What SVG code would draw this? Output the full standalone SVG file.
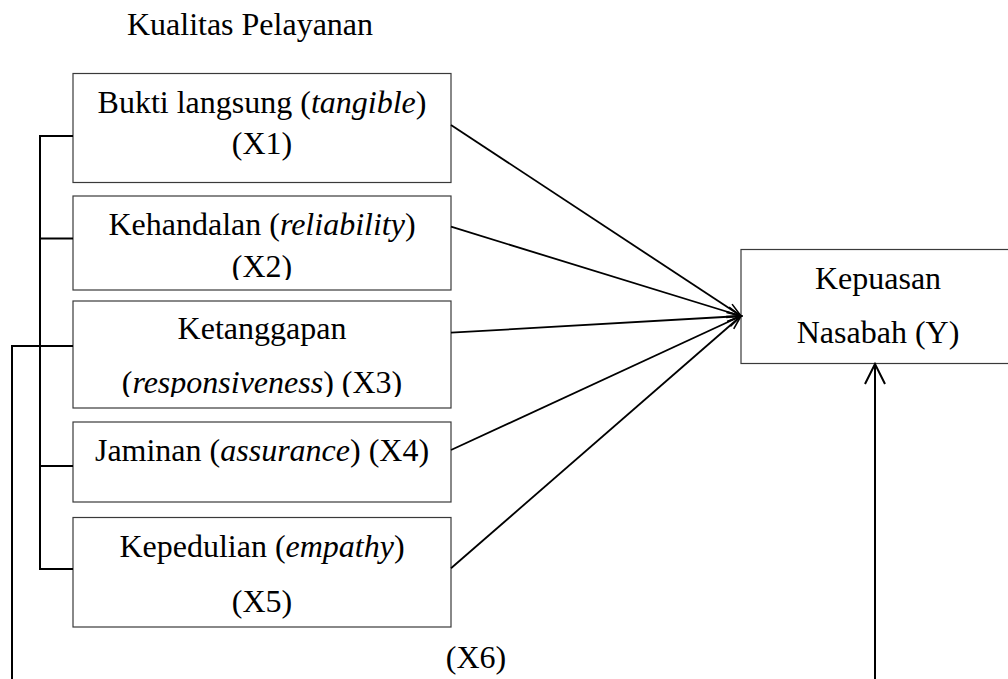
<svg xmlns="http://www.w3.org/2000/svg" width="1008" height="679" viewBox="0 0 1008 679">
<style>
  .box { fill: #ffffff; stroke: #3a3a3a; stroke-width: 1.2; }
  .t { font-family: "Liberation Serif", "Times New Roman", serif; font-size: 32px; fill: #000; text-anchor: middle; }
  .i { font-style: italic; }
  .ln { stroke: #000; stroke-width: 1.8; fill: none; }
  .br { stroke: #000; stroke-width: 2; fill: none; }
</style>
<defs>
  <marker id="ah" markerUnits="userSpaceOnUse" viewBox="-16 -8 18 16" markerWidth="18" markerHeight="16" refX="0" refY="0" orient="auto">
    <path d="M-14,-5 L0,0 L-14,5" fill="none" stroke="#000" stroke-width="1.6"/>
  </marker>
  <marker id="ahb" markerUnits="userSpaceOnUse" viewBox="-24 -12 26 24" markerWidth="26" markerHeight="24" refX="0" refY="0" orient="auto">
    <path d="M-20,-10 L0,0 L-20,10" fill="none" stroke="#000" stroke-width="2"/>
  </marker>
  <clipPath id="c2"><rect x="73" y="196" width="378" height="84"/></clipPath>
  <clipPath id="c3"><rect x="73" y="301" width="378" height="96"/></clipPath>
</defs>

<text id="title" class="t" x="250" y="35">Kualitas Pelayanan</text>

<g id="x1">
  <rect class="box" x="73" y="73.5" width="378" height="109"/>
  <text class="t" x="262" y="113">Bukti langsung (<tspan class="i">tangible</tspan>)</text>
  <text class="t" x="262" y="154">(X1)</text>
</g>
<g id="x2">
  <rect class="box" x="73" y="196" width="378" height="94"/>
  <text class="t" x="262" y="235">Kehandalan (<tspan class="i">reliability</tspan>)</text>
  <text class="t" x="262" y="277" clip-path="url(#c2)">(X2)</text>
</g>
<g id="x3">
  <rect class="box" x="73" y="301" width="378" height="107"/>
  <text class="t" x="262" y="339">Ketanggapan</text>
  <text class="t" x="262" y="393" clip-path="url(#c3)">(<tspan class="i">responsiveness</tspan>) (X3)</text>
</g>
<g id="x4">
  <rect class="box" x="73" y="422" width="378" height="80"/>
  <text class="t" x="262" y="461">Jaminan (<tspan class="i">assurance</tspan>) (X4)</text>
</g>
<g id="x5">
  <rect class="box" x="73" y="517.5" width="378" height="109.5"/>
  <text class="t" x="262" y="557">Kepedulian (<tspan class="i">empathy</tspan>)</text>
  <text class="t" x="262" y="612">(X5)</text>
</g>
<g id="y">
  <rect class="box" x="741" y="249.5" width="280" height="114"/>
  <text class="t" x="878" y="289">Kepuasan</text>
  <text class="t" x="878" y="343">Nasabah (Y)</text>
</g>
<g id="x6">
  <text class="t" x="476" y="668">(X6)</text>
</g>

<g id="connectors">
  <path class="br" d="M73,136 H40 V569 H73 M40,238.5 H73 M40,466 H73 M73,346 H12 V679"/>
  <line class="ln" x1="451" y1="125" x2="741" y2="316" marker-end="url(#ah)"/>
  <line class="ln" x1="451" y1="226.7" x2="741" y2="316" marker-end="url(#ah)"/>
  <line class="ln" x1="451" y1="332.7" x2="741" y2="316" marker-end="url(#ah)" stroke-width="2.3"/>
  <line class="ln" x1="451" y1="450" x2="741" y2="316" marker-end="url(#ah)"/>
  <line class="ln" x1="451" y1="568.3" x2="741" y2="316" marker-end="url(#ah)"/>
  <line class="br" x1="875" y1="679" x2="875" y2="364" marker-end="url(#ahb)"/>
</g>
</svg>
